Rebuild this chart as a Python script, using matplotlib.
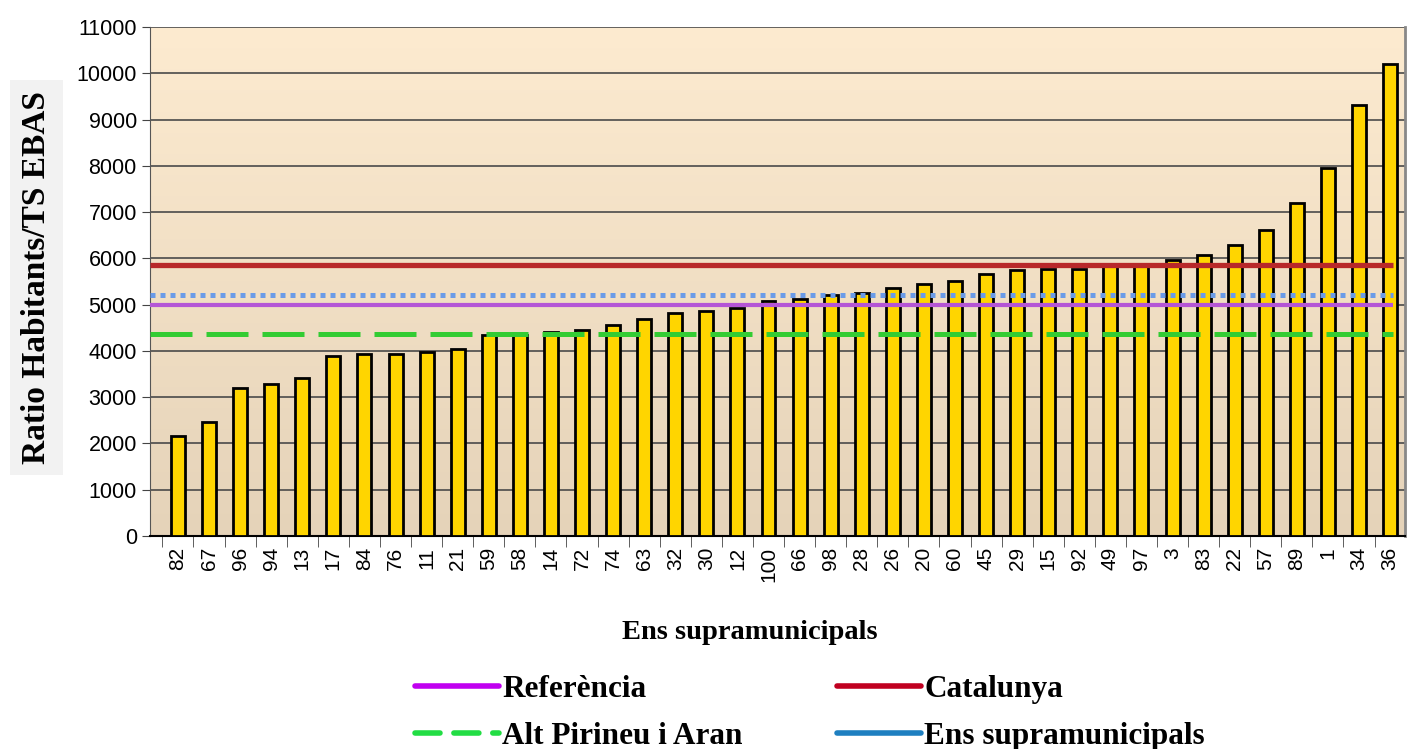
#!/usr/bin/env python3

import numpy as np
import matplotlib.pyplot as plt
from matplotlib.lines import Line2D

# data
categories = ['82', '67', '96', '94', '13', '17', '84', '76', '11', '21',
              '59', '58', '14', '72', '74', '63', '32', '30', '12', '100',
              '66', '98', '28', '26', '20', '60', '45', '29', '15', '92',
              '49', '97', '3', '83', '22', '57', '89', '1', '34', '36']
ratios = [2150, 2470, 3200, 3280, 3420, 3900, 3940, 3940, 3980, 4050,
          4350, 4350, 4400, 4450, 4550, 4680, 4820, 4860, 4930, 5070,
          5130, 5200, 5260, 5350, 5440, 5500, 5660, 5740, 5780, 5780,
          5850, 5850, 5960, 6080, 6290, 6620, 7200, 7950, 9320, 10200]

ref_names = ['Referència', 'Catalunya', 'Alt Pirineu i Aran', 'Ens supramunicipals']
ref_values = [5000, 5860, 4370, 5200]

serif = 'Liberation Serif'
sans = 'Liberation Sans'

fig = plt.figure(figsize=(14.07, 7.49), dpi=100)
ax = fig.add_axes([0.1066, 0.2844, 0.892, 0.6796])

n = len(categories)
x = np.arange(n)
xlo, xhi = -0.9, n - 0.52

# background gradient
grad = np.linspace(0, 1, 256).reshape(-1, 1)
top = np.array([253, 235, 208]) / 255
bot = np.array([229, 211, 185]) / 255
img = top + (bot - top) * grad[:, :, None] * np.ones((1, 1, 3))
ax.imshow(img, extent=[xlo, xhi, 0, 11000], aspect='auto', zorder=0)

ax.set_xlim(xlo, xhi)
ax.set_ylim(0, 11000)
ax.set_yticks(np.arange(0, 11001, 1000))
ax.yaxis.grid(True, color='#4a4a4a', lw=1.2, zorder=1)
ax.set_axisbelow(True)

ax.bar(x, ratios, width=0.45, color='#FFD500', edgecolor='black', lw=2, zorder=3)

line_end = n - 0.9
ax.hlines(ref_values[1], xlo, line_end, color='#B8282A', lw=3.8, zorder=4)
ax.plot([xlo, line_end], [ref_values[3]] * 2, color='#6A9BE8', lw=3.6,
        dashes=(1.0, 1.0), solid_capstyle='butt', dash_capstyle='butt', zorder=4)
ax.hlines(ref_values[0], xlo, line_end, color='#B455D6', lw=3.0, zorder=4)
ax.plot([xlo, line_end], [ref_values[2]] * 2, color='#33CC33', lw=3.6,
        dashes=(8.4, 2.8), dash_capstyle='butt', zorder=4)

ax.set_xticks(x)
ax.set_xticklabels(categories, rotation=90, fontsize=15, family=sans)
ax.set_xticks(np.arange(n) - 0.5, minor=True)
ax.tick_params(axis='x', which='major', length=0, pad=8)
ax.tick_params(axis='x', which='minor', length=8, color='#444444')
ax.tick_params(axis='y', labelsize=15.5, length=6, color='#444444')
for t in ax.get_yticklabels():
    t.set_family(sans)

ax.spines['top'].set_visible(False)
ax.spines['left'].set_color('#555555')
ax.spines['right'].set_color('#888888')
ax.spines['right'].set_linewidth(2)
ax.spines['bottom'].set_color('black')
ax.spines['bottom'].set_linewidth(1.5)

fig.text(0.0256, 0.629, 'Ratio Habitants/TS EBAS', rotation=90, ha='center', va='center',
         fontsize=24, fontweight='bold', family=serif,
         bbox=dict(facecolor='#F2F2F2', edgecolor='none', pad=8))
fig.text(0.533, 0.156, 'Ens supramunicipals', ha='center', va='center',
         fontsize=20.5, fontweight='bold', family=serif)

# legend below the chart
handles = [
    Line2D([], [], color='#C000F0', lw=4, solid_capstyle='round'),
    Line2D([], [], color='#C00020', lw=4, solid_capstyle='round'),
    Line2D([], [], color='#22DD44', lw=4, dashes=(4.5, 2.5), dash_capstyle='round'),
    Line2D([], [], color='#1E7FC0', lw=4, solid_capstyle='round'),
]
leg = fig.legend([handles[0], handles[2], handles[1], handles[3]],
                 [ref_names[0], ref_names[2], ref_names[1], ref_names[3]],
                 ncol=2, loc='center left', bbox_to_anchor=(415 / 1407, 1 - 713 / 749),
                 frameon=False, borderpad=0, borderaxespad=0,
                 handlelength=2.7, handletextpad=0.1, columnspacing=3.0,
                 labelspacing=0.58,
                 prop=dict(family=serif, weight='bold', size=22.5))

fig.savefig('out.png', dpi=100)
